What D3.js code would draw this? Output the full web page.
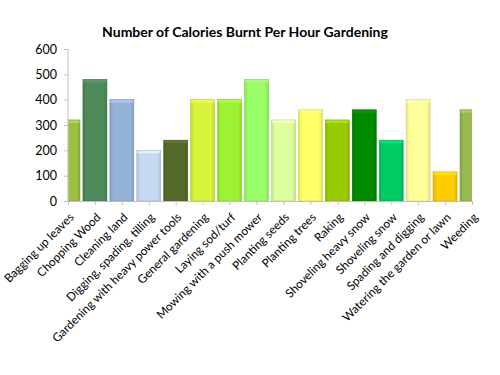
<!DOCTYPE html>
<html>
<head>
<meta charset="utf-8">
<script src="https://cdn.jsdelivr.net/npm/d3@7"></script>
<style>
  body { margin: 0; background: #fff; }
  text { font-family: Lato, "Open Sans", sans-serif; }
</style>
</head>
<body>
<div id="chart"></div>
<script>
// chart data
var activities = ["Bagging up leaves", "Chopping Wood", "Cleaning land", "Digging, spading, tilling",
  "Gardening with heavy power tools", "General gardening", "Laying sod/turf", "Mowing with a push mower",
  "Planting seeds", "Planting trees", "Raking", "Shoveling heavy snow", "Shoveling snow",
  "Spading and digging", "Watering the garden or lawn", "Weeding"];
var calories = [320, 480, 400, 200, 240, 400, 400, 480, 320, 360, 320, 360, 240, 400, 115, 360];
var barColors = ["#9dc044", "#4e8a5a", "#95b3d7", "#c6d9f1", "#546a2a", "#d6f53a", "#9cf233", "#99ff66",
  "#ddfe9e", "#ffff66", "#99cc00", "#008a00", "#00cc66", "#ffff99", "#ffcc00", "#98b852"];
var yTicks = [0, 100, 200, 300, 400, 500, 600];

var svgWidth = 500, svgHeight = 375;
var margin = { top: 49, left: 68, right: 28, bottom: 174 };
var chartWidth = svgWidth - margin.left - margin.right;
var chartHeight = svgHeight - margin.top - margin.bottom;

var svg = d3.select("#chart").append("svg")
  .attr("width", svgWidth)
  .attr("height", svgHeight);

var defs = svg.append("defs");
defs.append("clipPath").attr("id", "plotclip")
  .append("rect").attr("x", 0).attr("y", -5).attr("width", chartWidth).attr("height", chartHeight + 5);

barColors.forEach(function(c, i) {
  var g = defs.append("linearGradient").attr("id", "grad" + i)
    .attr("x1", "0%").attr("x2", "100%").attr("y1", "0%").attr("y2", "0%");
  var base = d3.color(c);
  g.append("stop").attr("offset", "0%").attr("stop-color", base.darker(0.35));
  g.append("stop").attr("offset", "15%").attr("stop-color", c);
  g.append("stop").attr("offset", "85%").attr("stop-color", c);
  g.append("stop").attr("offset", "100%").attr("stop-color", base.darker(0.35));
});

var chart = svg.append("g")
  .attr("transform", "translate(" + margin.left + "," + margin.top + ")");

// categories sit on the tick marks, so first and last bars are half cut
var x = d3.scalePoint()
  .domain(activities)
  .range([0, chartWidth]);
var step = x.step();
var barW = step * 0.89;

var y = d3.scaleLinear()
  .domain([0, 600])
  .range([chartHeight, 0]);

// title
svg.append("text")
  .attr("x", 245)
  .attr("y", 37)
  .attr("text-anchor", "middle")
  .style("font-size", "14px")
  .style("font-weight", "bold")
  .text("Number of Calories Burnt Per Hour Gardening");

// bars
var bars = chart.append("g").attr("clip-path", "url(#plotclip)");
var bar = bars.selectAll("g.bar")
  .data(activities)
  .enter()
  .append("g").attr("class", "bar");

bar.append("rect")
  .attr("x", function(d) { return x(d) - barW / 2; })
  .attr("y", function(d, i) { return y(calories[i]); })
  .attr("width", barW)
  .attr("height", function(d, i) { return chartHeight - y(calories[i]); })
  .attr("fill", function(d, i) { return "url(#grad" + i + ")"; })
  .attr("stroke", function(d, i) { return d3.color(barColors[i]).darker(0.5); })
  .attr("stroke-width", 0.6);

// bevel on top
bar.append("rect")
  .attr("x", function(d) { return x(d) - barW / 2 + 0.5; })
  .attr("y", function(d, i) { return y(calories[i]) + 0.5; })
  .attr("width", barW - 1)
  .attr("height", 2.5)
  .attr("fill", function(d, i) { return d3.color(barColors[i]).brighter(0.4); })
  .attr("opacity", 0.8);

// y axis
var yAxis = chart.append("g")
  .call(d3.axisLeft(y).tickValues(yTicks).tickSize(4).tickPadding(7));
yAxis.selectAll("text").style("font-size", "12.5px").attr("fill", "#000");
yAxis.selectAll("line").attr("stroke", "#bfbfbf");
yAxis.select(".domain").attr("stroke", "#bfbfbf").attr("d", "M0," + chartHeight + "V0");

// x axis
var xAxis = chart.append("g")
  .attr("transform", "translate(0," + chartHeight + ")")
  .call(d3.axisBottom(x).tickSize(4).tickSizeOuter(0));
xAxis.select(".domain").attr("stroke", "#bfbfbf");
xAxis.selectAll("line").attr("stroke", "#bfbfbf");
xAxis.selectAll("text")
  .style("font-size", "11.8px")
  .attr("fill", "#000")
  .attr("text-anchor", "end")
  .attr("dy", null)
  .attr("y", 0)
  .attr("transform", "translate(6,17) rotate(-45)");
</script>
</body>
</html>
